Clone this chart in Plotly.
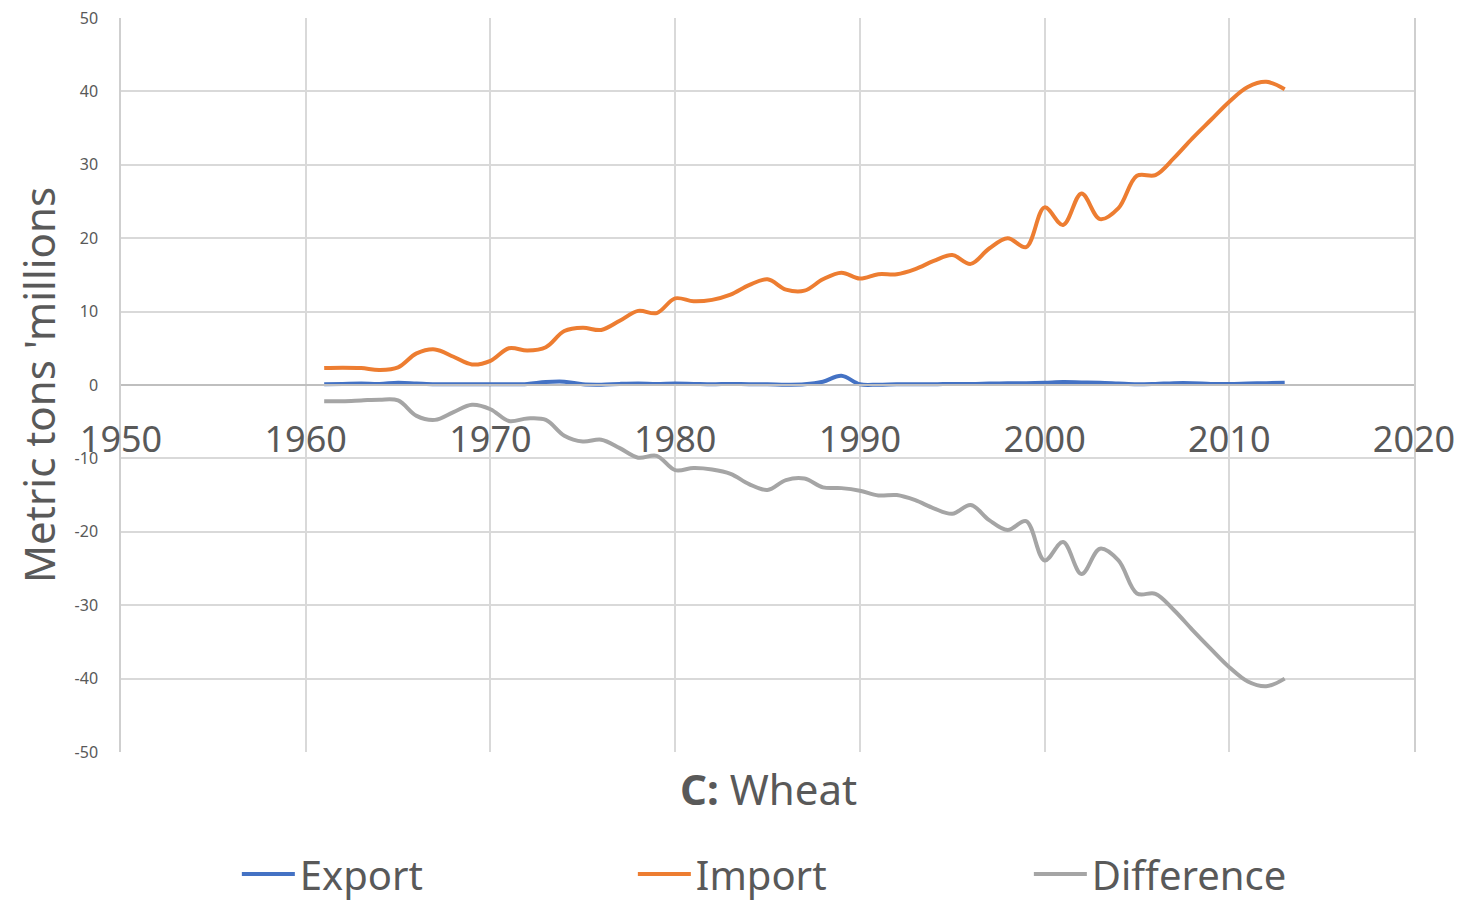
import plotly.graph_objects as go

years = list(range(1961, 2014))

export_vals = [0.1, 0.15, 0.2, 0.15, 0.3, 0.2, 0.1, 0.1, 0.1, 0.1,
               0.1, 0.15, 0.4, 0.45, 0.1, 0.05, 0.15, 0.2, 0.15, 0.2,
               0.15, 0.1, 0.15, 0.1, 0.1, 0.05, 0.1, 0.45, 1.25, 0.1,
               0.05, 0.1, 0.1, 0.1, 0.15, 0.15, 0.2, 0.25, 0.25, 0.3,
               0.4, 0.35, 0.3, 0.2, 0.1, 0.15, 0.25, 0.25, 0.15, 0.15,
               0.2, 0.25, 0.3]

import_vals = [2.3, 2.35, 2.3, 2.05, 2.4, 4.3, 4.85, 3.85, 2.8, 3.3,
               5.0, 4.7, 5.15, 7.35, 7.8, 7.5, 8.75, 10.1, 9.8, 11.8,
               11.4, 11.6, 12.3, 13.6, 14.4, 13.0, 12.85, 14.4, 15.3, 14.5,
               15.1, 15.1, 15.8, 16.9, 17.7, 16.5, 18.6, 20.0, 18.8, 24.2,
               21.8, 26.1, 22.6, 24.1, 28.5, 28.6, 30.9, 33.6, 36.1, 38.6,
               40.6, 41.3, 40.3]

difference_vals = [-2.2, -2.2, -2.1, -2.0, -2.1, -4.2, -4.75, -3.7, -2.7, -3.3,
                   -4.9, -4.55, -4.75, -6.9, -7.7, -7.45, -8.6, -9.9, -9.65, -11.6,
                   -11.3, -11.5, -12.1, -13.5, -14.3, -12.95, -12.75, -13.95, -14.05, -14.4,
                   -15.05, -15.0, -15.7, -16.8, -17.55, -16.35, -18.4, -19.75, -18.55, -23.9,
                   -21.4, -25.75, -22.3, -23.9, -28.4, -28.45, -30.65, -33.35, -35.95, -38.45,
                   -40.4, -41.05, -40.0]

series_names = ["Export", "Import", "Difference"]
series_colors = ["#4472C4", "#ED7D31", "#A5A5A5"]

y_tick_vals = [50, 40, 30, 20, 10, 0, -10, -20, -30, -40, -50]
y_tick_text = ["50", "40", "30", "20", "10", "0", "-10", "-20", "-30", "-40", "-50"]
x_tick_vals = [1950, 1960, 1970, 1980, 1990, 2000, 2010, 2020]
x_tick_text = ["1950", "1960", "1970", "1980", "1990", "2000", "2010", "2020"]

FONT = "Noto Sans"
TXT = "#595959"

fig = go.Figure()
for name, vals, col in zip(series_names, [export_vals, import_vals, difference_vals], series_colors):
    fig.add_trace(go.Scatter(
        x=years, y=vals, name=name, mode="lines",
        line=dict(color=col, width=4, shape="spline", smoothing=1.0),
    ))

fig.update_layout(
    width=1455, height=893,
    margin=dict(l=113, r=49, t=10, b=149, autoexpand=False),
    paper_bgcolor="white", plot_bgcolor="white",
    font=dict(family=FONT, color=TXT),
    showlegend=True,
    legend=dict(
        orientation="h", x=0.0896, xanchor="left", y=-0.1663, yanchor="middle",
        font=dict(size=40, color=TXT, family=FONT),
        entrywidth=328, entrywidthmode="pixels", itemwidth=53,
        bgcolor="rgba(0,0,0,0)",
    ),
    xaxis=dict(
        range=[1950, 2020], tickvals=x_tick_vals, ticktext=x_tick_text,
        anchor="free", position=0.5, automargin=False,
        showgrid=True, gridcolor="#d9d9d9", gridwidth=1.5,
        showline=True, linecolor="#bfbfbf", linewidth=1.5,
        zeroline=False, ticklabeloverflow="allow",
        ticks="", tickfont=dict(size=36, color=TXT, family=FONT),
        ticklabelstandoff=23,
    ),
    yaxis=dict(
        range=[-50, 50], tickvals=y_tick_vals, ticktext=y_tick_text,
        automargin=False, ticklabeloverflow="allow",
        showgrid=True, gridcolor="#d9d9d9", gridwidth=1.5,
        showline=True, linecolor="#cfcfcf", linewidth=1.5, mirror=True,
        zeroline=False,
        ticks="", tickfont=dict(size=16, color=TXT, family=FONT),
        ticklabelstandoff=18,
    ),
    annotations=[
        dict(text="<b>C:</b> Wheat", x=(768 - 121) / 1293, y=-0.0504, xref="paper", yref="paper",
             xanchor="center", yanchor="middle", showarrow=False,
             font=dict(size=42, color=TXT, family=FONT)),
        dict(text="Metric tons 'millions", x=(38 - 121) / 1293, y=0.5, xref="paper", yref="paper",
             showarrow=False, textangle=-90, xanchor="center", yanchor="middle",
             font=dict(size=42, color=TXT, family=FONT)),
    ],
)

fig.write_html("out.html")
